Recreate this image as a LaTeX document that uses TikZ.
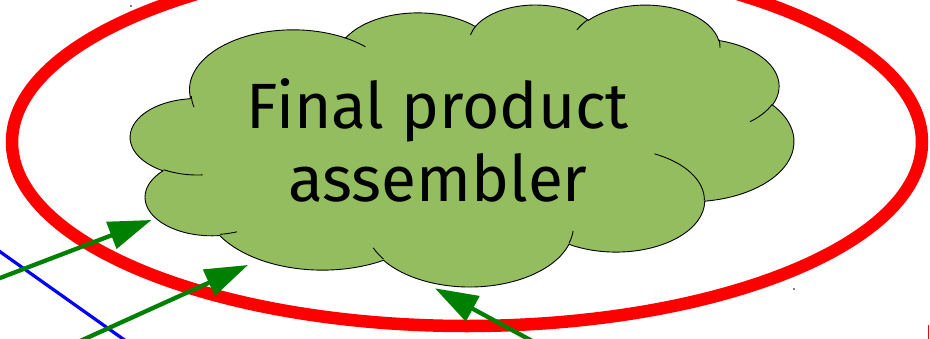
\documentclass[tikz,border=0pt]{standalone}
\usepackage{fontspec}
\setmainfont{Fira Sans}
\usetikzlibrary{arrows.meta}

\definecolor{cloudgreen}{RGB}{148,189,96}
\definecolor{arrowgreen}{RGB}{0,128,0}
\definecolor{ringred}{RGB}{255,0,0}

% Turn an arc given by visual start/sweep angles on an ellipse (wR,hR)
% into parametric start/end angles usable by TikZ's arc operation.
\newcommand\prepArc[5]{%
  \pgfmathsetmacro\tmpA{atan2((#2)*sin(#4),(#3)*cos(#4))}%
  \pgfmathsetmacro\tmpB{atan2((#2)*sin((#4)+(#5)),(#3)*cos((#4)+(#5)))}%
  \pgfmathsetmacro\tmpB{\tmpB+360*(((#5)>0)*(\tmpB<\tmpA)-((#5)<0)*(\tmpB>\tmpA))}%
  \expandafter\xdef\csname arcS#1\endcsname{\tmpA}%
  \expandafter\xdef\csname arcE#1\endcsname{\tmpB}%
}
\newcommand\lobe[3]{arc[start angle=\csname arcS#1\endcsname,
  end angle=\csname arcE#1\endcsname, x radius=#2, y radius=#3]}

\begin{document}
\begin{tikzpicture}[x=1pt,y=-1pt,
  ring/.style={draw=ringred,line width=12.5pt},
  feed/.style={draw=arrowgreen,line width=4.3pt,-{Triangle[length=43pt,width=28pt]}},
  crossline/.style={draw=blue,line width=3.2pt},
  cloudbody/.style={fill=cloudgreen,draw=black,line width=0.9pt},
  fold/.style={draw=black,line width=0.9pt},
  speck/.style={fill=black,circle,inner sep=0pt,minimum size=1.6pt},
  tag/.style={font=\fontsize{64}{73}\selectfont,align=center,inner sep=0pt}]

\useasboundingbox (0,0) rectangle (930,338);
\clip (0,0) rectangle (930,338);

% outline lobes of the cloud
\prepArc{a}{6.753}{9.190}{-190.487483}{123.780533}
\prepArc{b}{5.333}{7.267}{-144.102383}{89.945233}
\prepArc{c}{4.365}{5.945}{-145.807917}{99.723017}
\prepArc{d}{4.857}{6.595}{-130.986067}{117.241733}
\prepArc{e}{5.333}{7.273}{-78.708883}{109.026917}
\prepArc{f}{6.775}{9.220}{-46.26725}{130.269}
\prepArc{g}{5.785}{7.867}{0.625017}{114.033333}
\prepArc{h}{6.752}{9.215}{22.4516}{115.17255}
\prepArc{i}{7.720}{10.543}{66.242633}{75.711017}
\prepArc{j}{4.360}{5.918}{-274.942083}{146.735567}
\prepArc{k}{4.345}{5.945}{-246.8285}{152.51885}
% short fold lines inside the cloud
\prepArc{fa}{4.345}{5.945}{86.742}{26.4295}
\prepArc{fb}{4.360}{5.918}{73.610467}{11.447467}
\prepArc{fc}{6.752}{9.215}{137.62415}{14.0811}
\prepArc{fd}{6.752}{9.215}{6.453267}{15.99835}
\prepArc{fe}{5.785}{7.867}{-70.29235}{70.917367}
\prepArc{ff}{5.333}{7.273}{30.318033}{27.7515}
\prepArc{fg}{4.857}{6.595}{-13.744333}{14.8589}
\prepArc{fh}{4.857}{6.595}{-149.18145}{18.195367}
\prepArc{fi}{4.365}{5.945}{-163.494267}{17.68635}
\prepArc{fj}{6.753}{9.190}{-66.70695}{12.31935}
\prepArc{fk}{6.753}{9.190}{162.036267}{14.13255}

% red ring
\draw[ring] (467,142) ellipse [x radius=455, y radius=184];

% the cloud
\begin{scope}[shift={(130.6,4.1)},xscale=15.35,yscale=6.525]
  \path[cloudbody] (3.900,14.370)
    \lobe{a}{6.753}{9.190} \lobe{b}{5.333}{7.267} \lobe{c}{4.365}{5.945}
    \lobe{d}{4.857}{6.595} \lobe{e}{5.333}{7.273} \lobe{f}{6.775}{9.220}
    \lobe{g}{5.785}{7.867} \lobe{h}{6.752}{9.215} \lobe{i}{7.720}{10.543}
    \lobe{j}{4.360}{5.918} \lobe{k}{4.345}{5.945} -- cycle;
  \draw[fold] (4.693,26.177) \lobe{fa}{4.345}{5.945};
  \draw[fold] (6.928,34.899) \lobe{fb}{4.360}{5.918};
  \draw[fold] (16.478,39.090) \lobe{fc}{6.752}{9.215};
  \draw[fold] (28.827,34.751) \lobe{fd}{6.752}{9.215};
  \draw[fold] (34.129,22.954) \lobe{fe}{5.785}{7.867};
  \draw[fold] (41.798,15.354) \lobe{ff}{5.333}{7.273};
  \draw[fold] (38.324,5.426) \lobe{fg}{4.857}{6.595};
  \draw[fold] (29.078,3.952) \lobe{fh}{4.857}{6.595};
  \draw[fold] (22.141,4.720) \lobe{fi}{4.365}{5.945};
  \draw[fold] (14.000,5.192) \lobe{fj}{6.753}{9.190};
  \draw[fold] (4.127,15.789) \lobe{fk}{6.753}{9.190};
\end{scope}

\node[tag] (label) at (438,140.5) {Final product\\assembler};

% incoming connectors
\coordinate (inA) at (-30,289.5);
\coordinate (hitA) at (151.5,220);
\coordinate (inB) at (56.7,351.6);
\coordinate (hitB) at (248,265);
\coordinate (inC) at (556.7,354.3);
\coordinate (hitC) at (435,288.3);
\coordinate (blueS) at (-20,237.5);
\coordinate (blueE) at (140,351);
\draw[crossline] (blueS) -- (blueE);
\draw[feed] (inA) -- (hitA);
\draw[feed] (inB) -- (hitB);
\draw[feed] (inC) -- (hitC);

% stray marks
\coordinate (tickT) at (928.5,325);
\coordinate (tickB) at (928.5,340);
\draw[ringred,line width=1.5pt] (tickT) -- (tickB);
\node[speck] (dotA) at (131,6) {};
\node[speck] (dotB) at (794,289) {};
\end{tikzpicture}
\end{document}
